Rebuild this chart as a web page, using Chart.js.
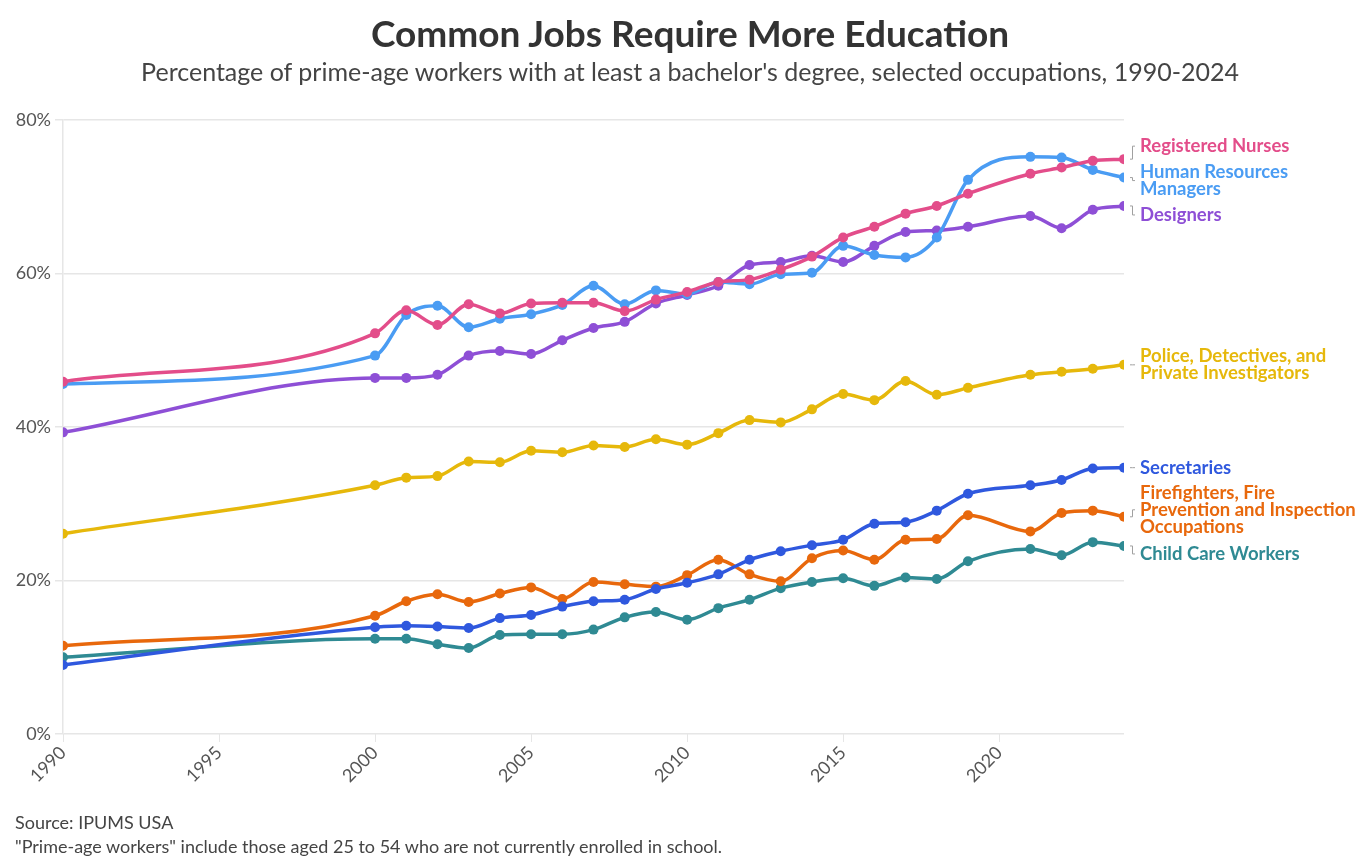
<!DOCTYPE html>
<html>
<head>
<meta charset="utf-8">
<script src="https://cdn.jsdelivr.net/npm/chart.js@4"></script>
<style>
  html, body { margin: 0; padding: 0; background: #fff; }
  #wrap { position: relative; width: 1372px; height: 867px; font-family: "Lato", "Noto Sans", sans-serif; }
  canvas { position: absolute; left: 0; top: 0; }
  .t { position: absolute; white-space: nowrap; }
  #title { left: 0; width: 1380px; text-align: center; top: 10px; font-size: 37px; font-weight: 700; color: #333; }
  #subtitle { left: 0; width: 1380px; text-align: center; top: 56px; font-size: 25px; color: #444; }
  #src { left: 15px; top: 811px; font-size: 18px; color: #444; }
  #note { left: 15px; top: 835px; font-size: 18px; color: #444; }
</style>
</head>
<body>
<div id="wrap">
  <canvas id="c" width="1372" height="867"></canvas>
  <div class="t" id="title">Common Jobs Require More Education</div>
  <div class="t" id="subtitle">Percentage of prime-age workers with at least a bachelor's degree, selected occupations, 1990-2024</div>
  <div class="t" id="src">Source: IPUMS USA</div>
  <div class="t" id="note">"Prime-age workers" include those aged 25 to 54 who are not currently enrolled in school.</div>
</div>
<script>
// ---- data ----
const years = [1990, 2000, 2001, 2002, 2003, 2004, 2005, 2006, 2007, 2008, 2009, 2010, 2011, 2012, 2013, 2014, 2015, 2016, 2017, 2018, 2019, 2021, 2022, 2023, 2024];
const registeredNurses = [45.9, 52.2, 55.2, 53.3, 56.0, 54.8, 56.1, 56.2, 56.2, 55.1, 56.6, 57.6, 58.9, 59.2, 60.5, 62.2, 64.7, 66.1, 67.8, 68.8, 70.4, 73.0, 73.8, 74.7, 74.9];
const hrManagers = [45.6, 49.3, 54.6, 55.8, 53.0, 54.1, 54.7, 55.9, 58.4, 56.0, 57.8, 57.3, 58.9, 58.6, 59.9, 60.1, 63.6, 62.4, 62.1, 64.7, 72.2, 75.2, 75.1, 73.5, 72.5];
const designers = [39.3, 46.4, 46.4, 46.8, 49.3, 49.9, 49.5, 51.3, 52.9, 53.7, 56.1, 57.2, 58.4, 61.1, 61.5, 62.3, 61.5, 63.6, 65.4, 65.6, 66.1, 67.5, 65.9, 68.3, 68.8];
const police = [26.1, 32.4, 33.4, 33.6, 35.5, 35.4, 36.9, 36.7, 37.6, 37.4, 38.4, 37.7, 39.2, 40.9, 40.6, 42.3, 44.3, 43.5, 46.0, 44.2, 45.1, 46.8, 47.2, 47.6, 48.1];
const secretaries = [9.0, 13.9, 14.1, 14.0, 13.8, 15.1, 15.5, 16.6, 17.3, 17.5, 18.9, 19.7, 20.8, 22.7, 23.8, 24.6, 25.3, 27.4, 27.6, 29.1, 31.3, 32.4, 33.1, 34.6, 34.7];
const firefighters = [11.5, 15.4, 17.3, 18.2, 17.2, 18.3, 19.1, 17.6, 19.8, 19.5, 19.2, 20.7, 22.7, 20.8, 19.9, 22.9, 23.9, 22.7, 25.3, 25.4, 28.5, 26.4, 28.8, 29.1, 28.3];
const childCare = [10.0, 12.4, 12.4, 11.7, 11.2, 12.9, 13.0, 13.0, 13.6, 15.2, 15.9, 14.9, 16.4, 17.5, 19.0, 19.8, 20.3, 19.3, 20.4, 20.2, 22.5, 24.1, 23.3, 25.0, 24.5];
const xTicks = [1990, 1995, 2000, 2005, 2010, 2015, 2020];
const yTicks = [0, 20, 40, 60, 80];

const seriesNames = [
  ["Registered Nurses"],
  ["Human Resources", "Managers"],
  ["Designers"],
  ["Police, Detectives, and", "Private Investigators"],
  ["Secretaries"],
  ["Firefighters, Fire", "Prevention and Inspection", "Occupations"],
  ["Child Care Workers"]
];
const seriesValues = [registeredNurses, hrManagers, designers, police, secretaries, firefighters, childCare];

// ---- style ----
const colors = ["#e34d8a", "#4a9cf3", "#8e4fd6", "#e6b80b", "#2f58de", "#e8680c", "#2f8a93"];
// vertical offset (px) of each label block centre relative to its last point
const labelOffsets = [-13, 3, 9, 0, 0, -7, 8];
const FONT = "Lato, 'Noto Sans', sans-serif";

const datasets = seriesValues.map((vals, i) => ({
  label: seriesNames[i].join(" "),
  data: years.map((y, j) => ({ x: y, y: vals[j] })),
  borderColor: colors[i],
  backgroundColor: colors[i],
  borderWidth: 3.5,
  pointRadius: 5,
  pointHoverRadius: 5,
  pointBorderWidth: 0,
  cubicInterpolationMode: "monotone",
  fill: false
}));

const endLabels = {
  id: "endLabels",
  afterDatasetsDraw(chart) {
    const ctx = chart.ctx;
    const xs = chart.scales.x, ys = chart.scales.y;
    const lh = 17;
    ctx.save();
    seriesValues.forEach((vals, i) => {
      const px = xs.getPixelForValue(years[years.length - 1]);
      const py = ys.getPixelForValue(vals[vals.length - 1]);
      const lines = seriesNames[i];
      const cy = py + labelOffsets[i];
      const firstY = cy - (lines.length - 1) * lh / 2;
      ctx.strokeStyle = "#a0a0a0";
      ctx.lineWidth = 1;
      ctx.beginPath();
      ctx.moveTo(px + 6, py);
      ctx.lineTo(px + 8.5, py);
      ctx.lineTo(px + 8.5, cy);
      ctx.lineTo(px + 11, cy);
      ctx.stroke();
      ctx.fillStyle = colors[i];
      ctx.font = "bold 18.5px " + FONT;
      ctx.textAlign = "left";
      ctx.textBaseline = "middle";
      lines.forEach((t, k) => ctx.fillText(t, px + 16, firstY + k * lh));
    });
    ctx.restore();
  }
};

new Chart(document.getElementById("c"), {
  type: "line",
  data: { datasets },
  options: {
    responsive: false,
    animation: false,
    layout: { padding: { left: 0, right: 248, top: 120, bottom: 0 } },
    plugins: { legend: { display: false }, tooltip: { enabled: false }, title: { display: false } },
    scales: {
      x: {
        type: "linear",
        min: 1990,
        max: 2024,
        afterBuildTicks(s) { s.ticks = xTicks.map(v => ({ value: v })); },
        afterFit(s) { s.height = 133; },
        grid: { drawOnChartArea: false, drawTicks: true, tickLength: 8, color: "#e6e6e6" },
        border: { display: false },
        ticks: {
          minRotation: 45, maxRotation: 45, autoSkip: false, padding: 0,
          color: "#555", font: { family: FONT, size: 18 },
          callback: v => String(v)
        }
      },
      y: {
        min: 0,
        max: 80,
        afterBuildTicks(s) { s.ticks = yTicks.map(v => ({ value: v })); },
        afterFit(s) { s.width = 63; },
        grid: { color: "#e6e6e6", tickLength: 8, lineWidth: 1.5 },
        border: { display: true, color: "#e6e6e6", width: 1.5 },
        ticks: { padding: 4, color: "#555", font: { family: FONT, size: 18 }, callback: v => v + "%" }
      }
    }
  },
  plugins: [endLabels]
});
</script>
</body>
</html>
